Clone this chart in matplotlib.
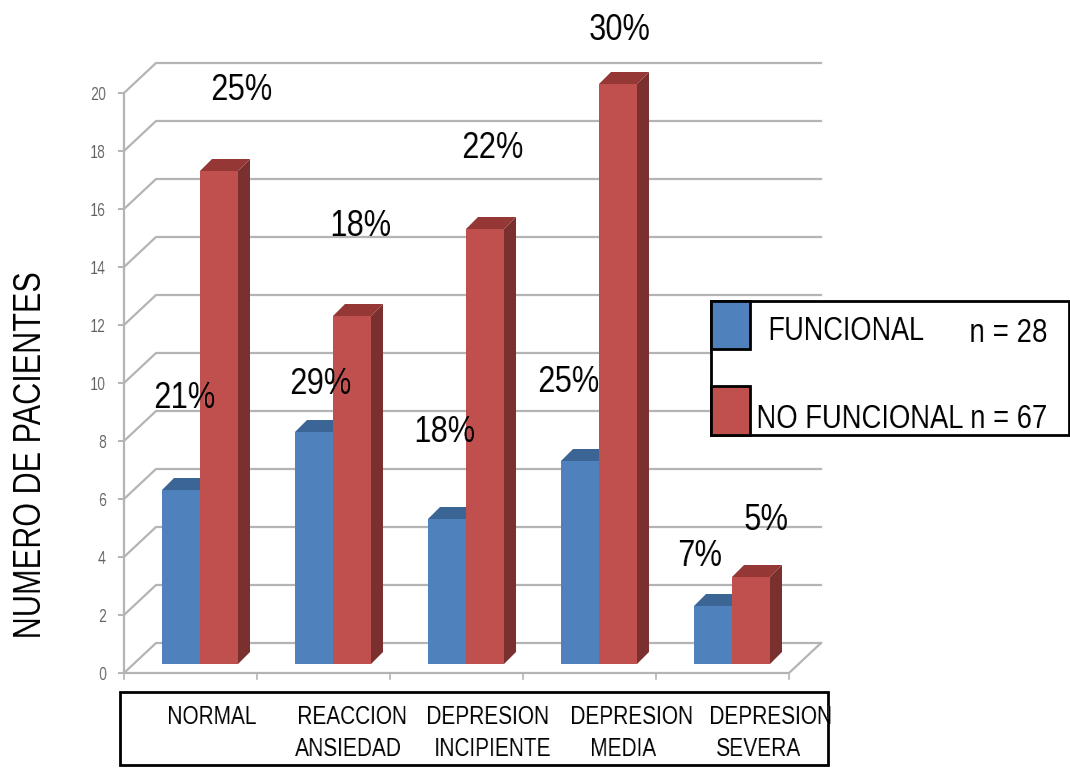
import matplotlib
matplotlib.use("Agg")
import matplotlib.pyplot as plt
from matplotlib.patches import Polygon, Rectangle
import numpy as np

categorias = [["NORMAL"], ["REACCION", "ANSIEDAD"], ["DEPRESION", "INCIPIENTE"], ["DEPRESION", "MEDIA"], ["DEPRESION", "SEVERA"]]
funcional = [6, 8, 5, 7, 2]
no_funcional = [17, 12, 15, 20, 3]
pct_funcional = ["21%", "29%", "18%", "25%", "7%"]
pct_no_funcional = ["25%", "18%", "22%", "30%", "5%"]
ticks_y = list(range(0, 21, 2))

AZUL = "#4f81bd"
AZUL_TOP = "#3a6595"
ROJO = "#c0504d"
ROJO_TOP = "#953735"
ROJO_LADO = "#7a302e"
GRIS = "#b4b4b4"
FUENTE = "Liberation Sans"

ANCHO, ALTO = 1070, 768
PX_X = 133.0   # px por categoria
PX_Y = 29.0    # px por paciente
X0, Y0 = 124.0, 673.0

fig = plt.figure(figsize=(ANCHO / 100, ALTO / 100), dpi=100)
ax = fig.add_axes([0, 0, 1, 1])
ax.set_xlim(-X0 / PX_X, (ANCHO - X0) / PX_X)
ax.set_ylim((Y0 - ALTO) / PX_Y, Y0 / PX_Y)
ax.axis("off")

# profundidad de la pared del fondo y de las barras, en unidades de datos
FONDO_X, FONDO_Y = 32 / PX_X, 30 / PX_Y
PROF_X, PROF_Y = 12 / PX_X, 12 / PX_Y
BASE_BARRA = 9 / PX_Y
INICIO = 38 / PX_X
ANCHO_BARRA = 38 / PX_X
n = len(categorias)


def a_datos(px, py):
    return (px - X0) / PX_X, (Y0 - py) / PX_Y


def apretar(fx=1.0, fy=1.0, derecha=False):
    # filtro agg que comprime el texto ya dibujado (letra muy junta)
    def filtro(img, dpi):
        h, w = img.shape[:2]
        nw, nh = max(1, round(w * fx)), max(1, round(h * fy))
        xs = np.linspace(0, w - 1, nw)
        ys = np.linspace(0, h - 1, nh)
        x0 = np.floor(xs).astype(int)
        y0 = np.floor(ys).astype(int)
        x1 = np.minimum(x0 + 1, w - 1)
        y1 = np.minimum(y0 + 1, h - 1)
        ax_ = (xs - x0)[None, :, None]
        ay_ = (ys - y0)[:, None, None]
        filas = img[y0] * (1 - ay_) + img[y1] * ay_
        out = filas[:, x0] * (1 - ax_) + filas[:, x1] * ax_
        ox = w - nw if derecha else (w - nw) // 2
        return out, ox, (h - nh) // 2
    return filtro


def texto(px, py, t, size, fx=1.0, fy=1.0, rot=0, color="black", z=6, ha="center", derecha=False):
    x, y = a_datos(px, py)
    txt = ax.text(x, y, t, ha=ha, va="center", fontsize=size, family=FUENTE, color=color, rotation=rot, zorder=z)
    txt.set_agg_filter(apretar(fx, fy, derecha))
    return txt


# rejilla: pared lateral y pared del fondo
for v in ticks_y:
    ax.plot([0, FONDO_X, n + FONDO_X], [v, v + FONDO_Y, v + FONDO_Y], color=GRIS, lw=1.6, zorder=1)
    ax.plot([-5 / PX_X, 0], [v, v], color=GRIS, lw=1.4, zorder=1)
    texto(106, Y0 - v * PX_Y + 2, str(v), 13, fx=0.8, color="#606060", ha="right", derecha=True)

# ejes
ax.plot([0, 0], [0, 20], color=GRIS, lw=1.6, zorder=1)
ax.plot([0, n, n + FONDO_X], [0, 0, FONDO_Y], color=GRIS, lw=1.6, zorder=1)
for i in range(n + 1):
    ax.plot([i, i], [0, -6 / PX_Y], color=GRIS, lw=1.2, zorder=1)


def barra(x, valor, color, color_top, color_lado, z):
    b = BASE_BARRA
    ax.add_patch(Rectangle((x, b), ANCHO_BARRA, valor, fc=color, ec="none", zorder=z))
    ax.add_patch(Polygon([(x, b + valor), (x + ANCHO_BARRA, b + valor),
                          (x + ANCHO_BARRA + PROF_X, b + valor + PROF_Y), (x + PROF_X, b + valor + PROF_Y)],
                         fc=color_top, ec="none", zorder=z))
    ax.add_patch(Polygon([(x + ANCHO_BARRA, b), (x + ANCHO_BARRA + PROF_X, b + PROF_Y),
                          (x + ANCHO_BARRA + PROF_X, b + valor + PROF_Y), (x + ANCHO_BARRA, b + valor)],
                         fc=color_lado, ec="none", zorder=z))


for i in range(n):
    barra(i + INICIO, funcional[i], AZUL, AZUL_TOP, "#2f527a", 3)
    barra(i + INICIO + ANCHO_BARRA, no_funcional[i], ROJO, ROJO_TOP, ROJO_LADO, 4)

# porcentajes sobre las barras
pos_fun = [(184, 399), (320, 385), (444, 432), (568, 383), (700, 557)]
pos_nof = [(241, 90), (360, 227), (492, 149), (620, 31), (767, 521)]
for (p, t) in zip(pos_fun + pos_nof, pct_funcional + pct_no_funcional):
    texto(p[0], p[1], t, 26, fx=0.86)

# recuadro de categorias
x1, y1 = a_datos(120, 765)
x2, y2 = a_datos(828, 692)
ax.add_patch(Rectangle((x1, y1), x2 - x1, y2 - y1, fc="none", ec="black", lw=2, zorder=5))
pos_cat = [[212], [352, 349], [488, 493], [632, 623], [771, 759]]
for lineas, xs in zip(categorias, pos_cat):
    for linea, cx, py in zip(lineas, xs, [717, 749]):
        texto(cx, py, linea, 17.8, fx=0.845)

# leyenda dibujada a mano
x1, y1 = a_datos(711, 435)
x2, y2 = a_datos(1069, 301)
ax.add_patch(Rectangle((x1, y1), x2 - x1, y2 - y1, fc="white", ec="black", lw=2, zorder=7))
for (top, bot, col) in [(301, 349, AZUL), (386, 435, ROJO)]:
    x1, y1 = a_datos(711, bot)
    x2, y2 = a_datos(750, top)
    ax.add_patch(Rectangle((x1, y1), x2 - x1, y2 - y1, fc=col, ec="black", lw=2, zorder=8))
for px, py, t, f in [(846, 332, "FUNCIONAL", 0.80), (1009, 333, "n = 28", 0.82)]:
    texto(px, py, t, 24.5, fx=f, z=9)
# sin comprimir este texto no cabe en la figura: se ancla por la derecha
texto(1048, 420, "NO FUNCIONAL n = 67", 24.5, fx=0.807, z=9, ha="right", derecha=True)

# titulo del eje y
texto(31, 455, "NUMERO DE PACIENTES", 28, fy=0.787, rot=90)

fig.savefig("out.png", dpi=100)
